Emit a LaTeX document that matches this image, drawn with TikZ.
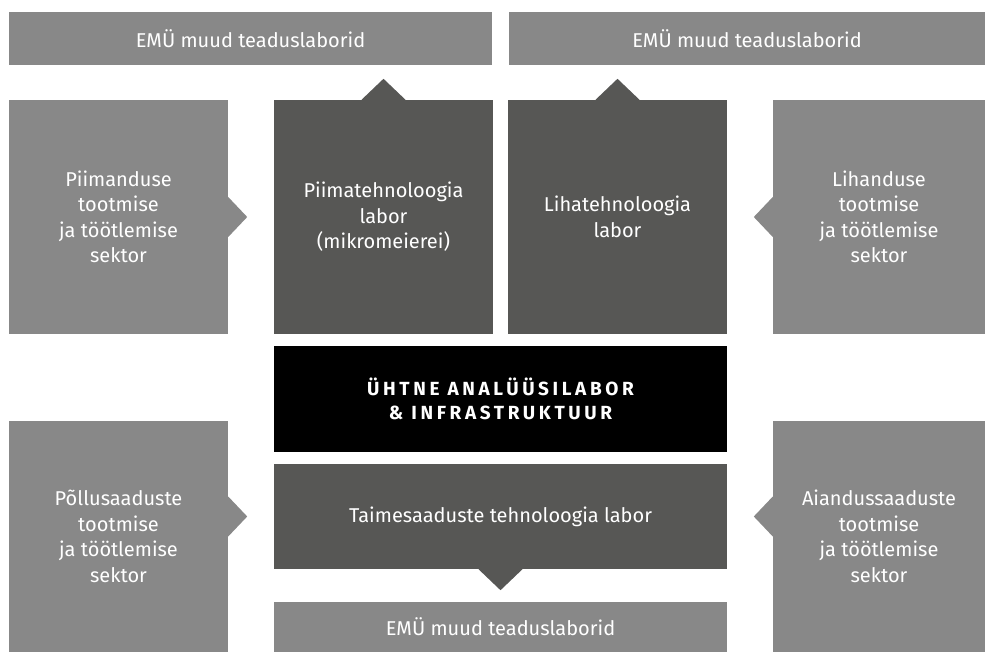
\documentclass[tikz,border=0pt]{standalone}
\usepackage{fontspec}
\setmainfont{Fira Sans}
\usepackage{tikz}
\usetikzlibrary{calc}
\definecolor{emuLight}{RGB}{136,136,136}
\definecolor{emuDark}{RGB}{87,87,85}

\begin{document}
\begin{tikzpicture}[x=1pt, y=-1pt, style={line cap=round},
  box/.style={rectangle, inner sep=0pt, text=white, align=center, font=\fontsize{20}{25.5}\selectfont},
  lightbox/.style={box, fill=emuLight},
  darkbox/.style={box, fill=emuDark}]
  \useasboundingbox[fill=white] (0,0) rectangle (985,652);
  % top row
  \node[lightbox, minimum width=483, minimum height=53] (topL) at (250.5, 38.5) {EMÜ muud teaduslaborid};
  \node[lightbox, minimum width=476, minimum height=53] (topR) at (747, 38.5) {EMÜ muud teaduslaborid};
  % middle row
  \node[lightbox, minimum width=219, minimum height=234] (piimandus) at (118.5, 217) {Piimanduse\\tootmise\\ja töötlemise\\sektor};
  \node[darkbox, minimum width=219, minimum height=234] (piima) at (383.5, 217) {Piimatehnoloogia\\labor\\(mikromeierei)};
  \node[darkbox, minimum width=219, minimum height=234] (liha) at (617.5, 217) {Lihatehnoloogia\\labor};
  \node[lightbox, minimum width=212, minimum height=234] (lihandus) at (879, 217) {Lihanduse\\tootmise\\ja töötlemise\\sektor};
  \node[box, fill=black, minimum width=453, minimum height=106, font=\fontsize{19}{24}\selectfont\bfseries\addfontfeatures{LetterSpace=19}] (analyys) at (500.5, 399) {ÜHTNE ANALÜÜSILABOR\\\& INFRASTRUKTUUR};
  % bottom row
  \node[lightbox, minimum width=219, minimum height=231] (pollu) at (118.5, 536.5) {Põllusaaduste\\tootmise\\ja töötlemise\\sektor};
  \node[darkbox, minimum width=453, minimum height=105] (taime) at (500.5, 516.5) {Taimesaaduste tehnoloogia labor};
  \node[lightbox, minimum width=212, minimum height=231] (aiandus) at (879, 536.5) {Aiandussaaduste\\tootmise\\ja töötlemise\\sektor};
  \node[lightbox, minimum width=453, minimum height=50] (bottomEMU) at (500.5, 627) {EMÜ muud teaduslaborid};
  % pointers
  \fill[emuLight] ($(piimandus.east)+(0,-20)$) -- ($(piimandus.east)+(19,0)$) -- ($(piimandus.east)+(0,20)$) -- cycle;
  \fill[emuLight] ($(lihandus.west)+(0,-20)$) -- ($(lihandus.west)+(-19,0)$) -- ($(lihandus.west)+(0,20)$) -- cycle;
  \fill[emuDark] ($(piima.north)+(-22,0)$) -- ($(piima.north)+(0,-21)$) -- ($(piima.north)+(22,0)$) -- cycle;
  \fill[emuDark] ($(liha.north)+(-22,0)$) -- ($(liha.north)+(0,-21)$) -- ($(liha.north)+(22,0)$) -- cycle;
  \fill[emuLight] ($(pollu.east |- taime.center)+(0,-20)$) -- ($(pollu.east |- taime.center)+(19,0)$) -- ($(pollu.east |- taime.center)+(0,20)$) -- cycle;
  \fill[emuLight] ($(aiandus.west |- taime.center)+(0,-20)$) -- ($(aiandus.west |- taime.center)+(-19,0)$) -- ($(aiandus.west |- taime.center)+(0,20)$) -- cycle;
  \fill[emuDark] ($(taime.south)+(-22,0)$) -- ($(taime.south)+(0,21)$) -- ($(taime.south)+(22,0)$) -- cycle;
\end{tikzpicture}
\end{document}
